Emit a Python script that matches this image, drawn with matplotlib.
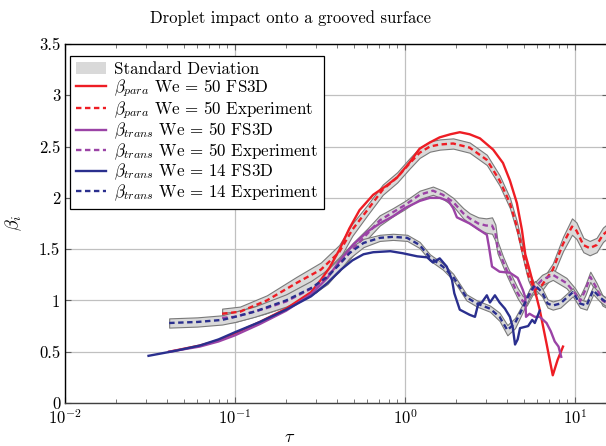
import numpy as np
import matplotlib
matplotlib.use("Agg")
import matplotlib.pyplot as plt
from matplotlib.patches import Patch
from matplotlib.lines import Line2D

plt.rcParams['font.family'] = ['cmr10', 'DejaVu Serif']
plt.rcParams['mathtext.fontset'] = 'cm'
plt.rcParams['axes.formatter.use_mathtext'] = True
plt.rcParams['axes.unicode_minus'] = True

red = '#ee1d24'
purple = '#9b43a6'
blue = '#2a2f8e'
band_fill = '#d9d9d9'
band_edge = '#7a7a7a'

# FS3D simulations
t_para50 = [0.041, 0.062, 0.08, 0.1, 0.14, 0.2, 0.28, 0.32, 0.36, 0.41, 0.47, 0.54, 0.65, 0.78,
            0.9, 1.07, 1.22, 1.4, 1.6, 1.85, 2.1, 2.4, 2.76, 3.3, 3.77, 4.14, 4.55, 4.87,
            5.1, 5.4, 5.66, 6.2, 6.8, 7.4, 7.9, 8.5]
b_para50 = [0.5, 0.56, 0.61, 0.68, 0.79, 0.92, 1.08, 1.2, 1.32, 1.49, 1.7, 1.88, 2.03, 2.12,
            2.2, 2.35, 2.48, 2.54, 2.59, 2.62, 2.64, 2.62, 2.58, 2.47, 2.34, 2.17, 1.95, 1.69,
            1.45, 1.3, 1.17, 0.91, 0.58, 0.27, 0.42, 0.55]

t_trans50 = [0.041, 0.062, 0.08, 0.1, 0.14, 0.2, 0.28, 0.35, 0.41, 0.5, 0.6, 0.71, 0.85, 1.0,
             1.22, 1.4, 1.6, 1.8, 1.92, 2.02, 2.4, 2.84, 3.03, 3.12, 3.25, 3.6, 4.14, 4.6,
             4.94, 5.1, 5.15, 5.4, 5.8, 6.2, 6.8, 7.2, 7.6, 8.0, 8.3]
b_trans50 = [0.5, 0.55, 0.6, 0.66, 0.77, 0.9, 1.06, 1.22, 1.38, 1.55, 1.67, 1.75, 1.82, 1.9,
             1.97, 2.0, 2.0, 1.97, 1.9, 1.81, 1.75, 1.67, 1.64, 1.52, 1.33, 1.28, 1.27, 1.22,
             1.1, 1.03, 0.84, 0.87, 0.84, 0.84, 0.78, 0.7, 0.6, 0.55, 0.45]

t_trans14 = [0.031, 0.045, 0.062, 0.08, 0.1, 0.14, 0.2, 0.28, 0.35, 0.42, 0.49, 0.57, 0.65, 0.82,
             0.97, 1.18, 1.35, 1.46, 1.6, 1.76, 1.89, 1.95, 2.1, 2.4, 2.58, 2.7, 2.83, 3.03,
             3.16, 3.38, 3.6, 3.87, 4.14, 4.3, 4.44, 4.6, 4.75, 5.3, 5.6, 5.8, 6.2]
b_trans14 = [0.46, 0.51, 0.56, 0.62, 0.69, 0.79, 0.91, 1.04, 1.17, 1.3, 1.39, 1.45, 1.47, 1.48,
             1.46, 1.43, 1.42, 1.37, 1.41, 1.33, 1.2, 1.07, 0.91, 0.86, 0.84, 0.97, 0.98, 1.05,
             0.98, 1.05, 0.98, 0.92, 0.84, 0.74, 0.57, 0.62, 0.73, 0.75, 0.81, 0.78, 0.9]

# experiments (mean and standard deviation)
te_para50 = [0.084, 0.107, 0.154, 0.23, 0.32, 0.41, 0.49, 0.6, 0.74, 0.9, 1.07, 1.22, 1.4, 1.6,
             1.92, 2.4, 3.03, 3.6, 4.14, 4.55, 4.94, 5.3, 5.8, 6.4, 7.4, 8.5, 9.6, 10.2,
             11.2, 12.2, 13.4, 14.6, 15.6]
be_para50 = [0.87, 0.89, 1.0, 1.17, 1.3, 1.47, 1.69, 1.88, 2.08, 2.2, 2.34, 2.44, 2.5, 2.52,
             2.53, 2.49, 2.37, 2.17, 1.95, 1.72, 1.46, 1.25, 1.1, 1.15, 1.3, 1.55, 1.72, 1.68,
             1.54, 1.51, 1.54, 1.64, 1.68]
se_para50 = [0.05, 0.05, 0.05, 0.06, 0.07, 0.07, 0.06, 0.05, 0.05, 0.05, 0.05, 0.05, 0.05, 0.05,
             0.05, 0.05, 0.05, 0.05, 0.05, 0.05, 0.05, 0.05, 0.05, 0.05, 0.06, 0.07, 0.08, 0.08,
             0.07, 0.07, 0.07, 0.07, 0.07]

te_trans50 = [0.084, 0.1, 0.15, 0.2, 0.3, 0.41, 0.5, 0.6, 0.71, 0.85, 1.0, 1.22, 1.46, 1.67,
              1.92, 2.2, 2.4, 2.7, 3.0, 3.25, 3.4, 3.5, 3.77, 4.0, 4.3, 4.6, 4.94, 5.2, 5.6,
              6.4, 7.4, 8.9, 10.0, 10.7, 11.5, 12.3, 13.4, 14.5, 15.6]
be_trans50 = [0.83, 0.84, 0.92, 0.99, 1.14, 1.35, 1.51, 1.65, 1.78, 1.86, 1.93, 2.03, 2.07, 2.03,
              1.96, 1.85, 1.8, 1.75, 1.73, 1.73, 1.66, 1.52, 1.38, 1.28, 1.17, 1.07, 0.99, 1.0, 1.1,
              1.2, 1.25, 1.17, 1.07, 0.99, 1.1, 1.23, 1.12, 1.0, 0.97]
se_trans50 = [0.05, 0.05, 0.05, 0.05, 0.06, 0.07, 0.06, 0.05, 0.05, 0.04, 0.04, 0.04, 0.04, 0.04,
              0.04, 0.05, 0.05, 0.06, 0.07, 0.08, 0.08, 0.06, 0.05, 0.05, 0.05, 0.05, 0.05, 0.05, 0.05,
              0.05, 0.05, 0.05, 0.05, 0.05, 0.05, 0.05, 0.05, 0.05, 0.05]

te_trans14 = [0.041, 0.06, 0.084, 0.1, 0.13, 0.2, 0.28, 0.35, 0.41, 0.47, 0.57, 0.71, 0.85, 1.03,
              1.22, 1.4, 1.67, 1.92, 2.3, 2.65, 3.16, 3.6, 4.0, 4.44, 4.87, 5.4, 5.8, 6.4, 6.9,
              7.4, 8.2, 9.7, 10.7, 11.7, 12.8, 14.0, 15.6]
be_trans14 = [0.78, 0.79, 0.81, 0.84, 0.89, 1.0, 1.12, 1.23, 1.35, 1.46, 1.56, 1.61, 1.62, 1.61,
              1.54, 1.42, 1.33, 1.23, 1.03, 0.97, 0.92, 0.84, 0.71, 0.78, 0.91, 1.07, 1.15, 1.08, 0.97,
              0.95, 0.97, 1.08, 0.97, 0.95, 1.1, 1.03, 0.97]
se_trans14 = [0.045, 0.045, 0.045, 0.05, 0.05, 0.06, 0.07, 0.07, 0.06, 0.05, 0.04, 0.03, 0.03, 0.03,
              0.03, 0.03, 0.03, 0.03, 0.03, 0.03, 0.03, 0.04, 0.05, 0.05, 0.04, 0.04, 0.04, 0.04, 0.04,
              0.04, 0.04, 0.04, 0.04, 0.04, 0.04, 0.04, 0.04]

fig = plt.figure(figsize=(6.06, 4.46), dpi=100)
ax = fig.add_axes([65 / 606, 43 / 446, 543 / 606, 359 / 446])

dash = (0, (2.3, 1.5))
for t, b, s in [(te_para50, be_para50, se_para50),
                (te_trans50, be_trans50, se_trans50),
                (te_trans14, be_trans14, se_trans14)]:
    t = np.array(t); b = np.array(b); s = np.array(s)
    ax.fill_between(t, b - s, b + s, facecolor=band_fill, edgecolor=band_edge, lw=0.8, zorder=2)

ax.plot(t_para50, b_para50, color=red, lw=1.7, zorder=3)
ax.plot(t_trans50, b_trans50, color=purple, lw=1.7, zorder=3)
ax.plot(t_trans14, b_trans14, color=blue, lw=1.7, zorder=3)
ax.plot(te_para50, be_para50, color=red, lw=1.7, ls=dash, zorder=4)
ax.plot(te_trans50, be_trans50, color=purple, lw=1.7, ls=dash, zorder=4)
ax.plot(te_trans14, be_trans14, color=blue, lw=1.7, ls=dash, zorder=4)

ax.set_xscale('log')
ax.set_xlim(0.01, 10 ** (1 + 33 / 170))
ax.set_ylim(0, 3.5)
ax.set_yticks(np.arange(0, 3.51, 0.5))
ax.set_yticklabels(['0', '0.5', '1', '1.5', '2', '2.5', '3', '3.5'])
ax.grid(True, which='major', color='#c0c0c0', lw=0.9)
ax.set_axisbelow(True)
ax.tick_params(which='both', direction='in', top=True, right=True, labelsize=12,
               color='#606060')
ax.tick_params(which='major', length=4)
ax.tick_params(which='minor', length=3)
for sp in ax.spines.values():
    sp.set_linewidth(1.0)
ax.spines['bottom'].set_color('#404040')

ax.set_xlabel(r'$\tau$', fontsize=13)
ax.xaxis.set_label_coords((290 - 65) / 543, -0.075)
ax.set_ylabel(r'$\beta_i$', fontsize=13)
ax.yaxis.set_label_coords(-0.075, 0.5)
fig.text(291 / 606, 1 - 18 / 446, 'Droplet impact onto a grooved surface',
         fontsize=12, ha='center', va='center')

handles = [Patch(facecolor=band_fill, edgecolor='none'),
           Line2D([], [], color=red, lw=1.7),
           Line2D([], [], color=red, lw=1.7, ls=dash),
           Line2D([], [], color=purple, lw=1.7),
           Line2D([], [], color=purple, lw=1.7, ls=dash),
           Line2D([], [], color=blue, lw=1.7),
           Line2D([], [], color=blue, lw=1.7, ls=dash)]
labels = ['Standard Deviation',
          r'$\beta_{para}$ We = 50 FS3D',
          r'$\beta_{para}$ We = 50 Experiment',
          r'$\beta_{trans}$ We = 50 FS3D',
          r'$\beta_{trans}$ We = 50 Experiment',
          r'$\beta_{trans}$ We = 14 FS3D',
          r'$\beta_{trans}$ We = 14 Experiment']
leg = ax.legend(handles, labels, loc='upper left', fontsize=12.2, frameon=True,
                fancybox=False, framealpha=1, edgecolor='black', borderpad=0.35,
                labelspacing=0.0, handlelength=1.8, handletextpad=0.45,
                borderaxespad=0, bbox_to_anchor=(5 / 543, 1 - 12 / 359))
leg.get_frame().set_linewidth(0.9)

fig.savefig('out.png', dpi=100)
